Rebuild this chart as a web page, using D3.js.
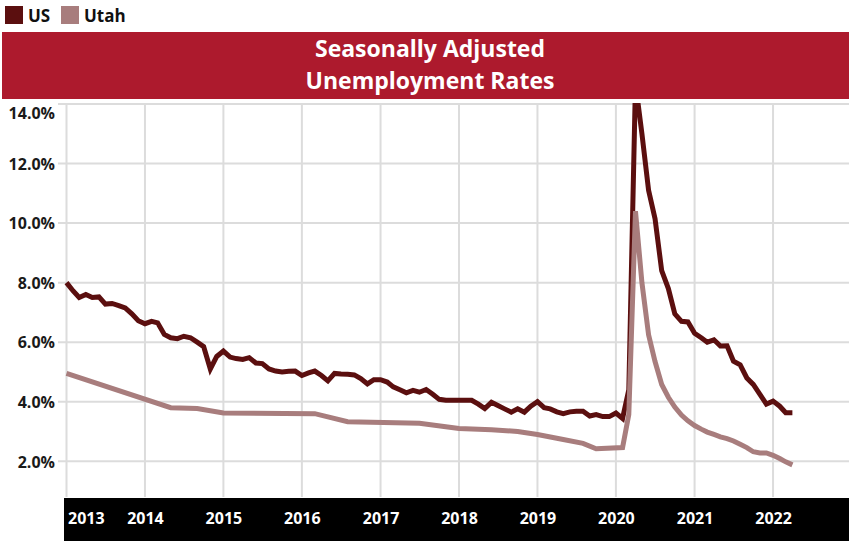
<!DOCTYPE html>
<html lang="en">
<head>
<meta charset="UTF-8">
<title>Seasonally Adjusted Unemployment Rates</title>
<script src="https://d3js.org/d3.v7.min.js"></script>
<style>
  html, body { margin: 0; padding: 0; background: #fff; }
  svg text { font-family: 'Open Sans', sans-serif; font-weight: 700; }
</style>
</head>
<body>
<div id="chart"></div>
<script>

// series: US is monthly from Jan 2013, Utah is given as date / value pairs
var usStart = "2013-01";
var usValues = [
  8.0, 7.72, 7.5, 7.6, 7.5, 7.52, 7.28, 7.3, 7.23, 7.15, 6.95, 6.72,
  6.62, 6.7, 6.65, 6.26, 6.15, 6.12, 6.2, 6.15, 6.0, 5.85, 5.1, 5.52,
  5.7, 5.5, 5.45, 5.42, 5.48, 5.3, 5.28, 5.1, 5.03, 5.0, 5.02, 5.03,
  4.88, 4.97, 5.03, 4.88, 4.7, 4.95, 4.93, 4.92, 4.9, 4.78, 4.6, 4.74,
  4.74, 4.66, 4.5, 4.4, 4.3, 4.38, 4.32, 4.41, 4.25, 4.08, 4.05, 4.05,
  4.05, 4.05, 4.05, 3.92, 3.77, 3.98, 3.87, 3.76, 3.65, 3.76, 3.65, 3.85,
  4.0, 3.8, 3.76, 3.66, 3.6, 3.66, 3.68, 3.68, 3.52, 3.57, 3.5, 3.5,
  3.62, 3.44, 4.4, 14.7, 13.0, 11.1, 10.15, 8.4, 7.8, 6.95, 6.7, 6.68,
  6.3, 6.15, 6.0, 6.08, 5.87, 5.88, 5.36, 5.24, 4.8, 4.58, 4.25, 3.92,
  4.02, 3.85, 3.63, 3.63
];

var utahDates = [
  "2013-01", "2014-05", "2014-09", "2015-01", "2016-03", "2016-08", "2017-07",
  "2018-01", "2018-06", "2018-10", "2019-01", "2019-05", "2019-08", "2019-10",
  "2020-02", "2020-03", "2020-04", "2020-05", "2020-06", "2020-07", "2020-08",
  "2020-09", "2020-10", "2020-11", "2020-12", "2021-01", "2021-02", "2021-03",
  "2021-04", "2021-05", "2021-06", "2021-07", "2021-08", "2021-09", "2021-10",
  "2021-11", "2021-12", "2022-01", "2022-02", "2022-03", "2022-04"
];
var utahValues = [
  4.95, 3.8, 3.77, 3.62, 3.6, 3.33, 3.28,
  3.1, 3.06, 3.0, 2.9, 2.73, 2.6, 2.42,
  2.46, 3.57, 10.4, 8.0, 6.25, 5.35, 4.58,
  4.15, 3.82, 3.55, 3.36, 3.2, 3.08, 2.98,
  2.9, 2.82, 2.76, 2.68, 2.57, 2.46, 2.32,
  2.28, 2.28, 2.2, 2.09, 1.98, 1.88
];

var yTicks = [2, 4, 6, 8, 10, 12, 14];
var xTickYears = [2013, 2014, 2015, 2016, 2017, 2018, 2019, 2020, 2021, 2022];
var seriesNames = ["US", "Utah"];
var seriesColors = ["#5b0f0f", "#a87d7d"];
var titleLines = ["Seasonally Adjusted", "Unemployment Rates"];

var W = 849, H = 541;
var parse = d3.timeParse("%Y-%m");

var us = usValues.map(function (v, i) {
  return { date: d3.timeMonth.offset(parse(usStart), i), value: v };
});
var utah = utahDates.map(function (d, i) {
  return { date: parse(d), value: utahValues[i] };
});

var svg = d3.select("#chart")
  .append("svg")
  .attr("width", W)
  .attr("height", H);

var plotLeft = 64, plotRight = W, plotTop = 103, plotBottom = 497;

var x_scale = d3.scaleTime()
  .domain([new Date(2013, 0, 1), new Date(2023, 0, 1)])
  .range([66.5, 851.5]);

var y_scale = d3.scaleLinear()
  .domain([0.8, 14])
  .range([plotBottom, 104]);

// legend
var legend = svg.append("g");
var legendX = [5, 61];
seriesNames.forEach(function (name, i) {
  legend.append("rect")
    .attr("x", legendX[i])
    .attr("y", 6)
    .attr("width", 18)
    .attr("height", 18)
    .attr("fill", seriesColors[i]);
  legend.append("text")
    .attr("x", legendX[i] + 23)
    .attr("y", 22)
    .attr("fill", "#111")
    .style("font-size", "17px")
    .text(name);
});

// title band
svg.append("rect")
  .attr("x", 2)
  .attr("y", 32)
  .attr("width", W - 2)
  .attr("height", 67)
  .attr("fill", "#ad1a2d");

svg.selectAll(".title")
  .data(titleLines)
  .enter()
  .append("text")
  .attr("class", "title")
  .attr("x", 430)
  .attr("y", function (d, i) { return 57 + i * 32; })
  .attr("text-anchor", "middle")
  .attr("fill", "#fff")
  .style("font-size", "23px")
  .text(function (d) { return d; });

// grid
svg.append("g")
  .selectAll("line")
  .data(yTicks)
  .enter()
  .append("line")
  .attr("x1", 58)
  .attr("x2", W)
  .attr("y1", function (d) { return y_scale(d); })
  .attr("y2", function (d) { return y_scale(d); })
  .attr("stroke", "#dcdcdc")
  .attr("stroke-width", 2);

svg.append("g")
  .selectAll("line")
  .data(xTickYears)
  .enter()
  .append("line")
  .attr("x1", function (d) { return x_scale(new Date(d, 0, 1)); })
  .attr("x2", function (d) { return x_scale(new Date(d, 0, 1)); })
  .attr("y1", plotTop)
  .attr("y2", plotBottom)
  .attr("stroke", "#dcdcdc")
  .attr("stroke-width", 2);

// y axis labels
var y_axis = d3.axisLeft(y_scale)
  .tickValues(yTicks)
  .tickSize(0)
  .tickPadding(11)
  .tickFormat(function (d) { return d.toFixed(1) + "%"; });

var yg = svg.append("g")
  .attr("transform", "translate(66, 0)")
  .call(y_axis);
yg.select(".domain").remove();
yg.selectAll("text")
  .attr("fill", "#1a1a1a")
  .style("font-size", "16px")
  .style("font-family", "'Open Sans', sans-serif")
  .attr("dy", function (d) { return d === 14 ? "0.92em" : "0.36em"; });

// x axis band
svg.append("rect")
  .attr("x", plotLeft)
  .attr("y", 498)
  .attr("width", W - plotLeft)
  .attr("height", H - 498)
  .attr("fill", "#000");

var x_axis = d3.axisBottom(x_scale)
  .tickValues(xTickYears.map(function (y) { return new Date(y, 0, 1); }))
  .tickSize(0)
  .tickPadding(15)
  .tickFormat(d3.timeFormat("%Y"));

var xg = svg.append("g")
  .attr("transform", "translate(0, 498)")
  .call(x_axis);
xg.select(".domain").remove();
xg.selectAll("text")
  .attr("fill", "#fff")
  .style("font-size", "16px")
  .style("font-family", "'Open Sans', sans-serif")
  .attr("text-anchor", function (d, i) { return i === 0 ? "start" : "middle"; })
  .attr("x", function (d, i) { return i === 0 ? 1 : 0; });

// lines
svg.append("clipPath")
  .attr("id", "plot-clip")
  .append("rect")
  .attr("x", plotLeft)
  .attr("y", plotTop)
  .attr("width", plotRight - plotLeft)
  .attr("height", plotBottom - plotTop);

var line = d3.line()
  .x(function (d) { return x_scale(d.date); })
  .y(function (d) { return y_scale(d.value); });

var lines = svg.append("g").attr("clip-path", "url(#plot-clip)");

[us, utah].forEach(function (series, i) {
  lines.append("path")
    .datum(series)
    .attr("fill", "none")
    .attr("stroke", seriesColors[i])
    .attr("stroke-width", 5)
    .attr("d", line);
});

</script>
</body>
</html>
